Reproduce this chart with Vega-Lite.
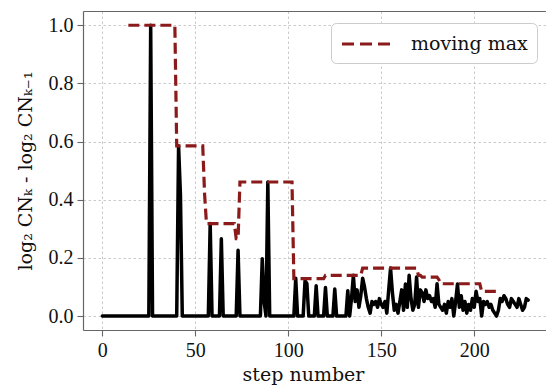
{
  "$schema": "https://vega.github.io/schema/vega-lite/v6.json",
  "width": 463,
  "height": 319,
  "autosize": {"type": "none"},
  "padding": {"left": 83, "top": 11, "right": 0, "bottom": 55},
  "config": {
    "view": {"stroke": null},
    "font": "Liberation Serif",
    "axis": {"labelFont": "Liberation Serif", "titleFont": "DejaVu Serif", "labelFontSize": 20, "titleFontSize": 19, "titleFontWeight": "normal", "labelColor": "#111", "titleColor": "#111", "domainColor": "#666", "domainWidth": 1.2, "tickColor": "#666", "tickWidth": 1.1, "tickSize": 6, "gridColor": "#bdbdbd", "gridDash": [2.5, 2.5], "gridWidth": 0.8}
  },
  "datasets": {
    "cn": [
      {"s":0,"v":0},{"s":1,"v":0},{"s":2,"v":0},{"s":3,"v":0},{"s":4,"v":0},{"s":5,"v":0},{"s":6,"v":0},{"s":7,"v":0},{"s":8,"v":0},{"s":9,"v":0},
      {"s":10,"v":0},{"s":11,"v":0},{"s":12,"v":0},{"s":13,"v":0},{"s":14,"v":0},{"s":15,"v":0},{"s":16,"v":0},{"s":17,"v":0},{"s":18,"v":0},{"s":19,"v":0},
      {"s":20,"v":0},{"s":21,"v":0},{"s":22,"v":0},{"s":23,"v":0},{"s":24,"v":0},{"s":25,"v":0},{"s":26,"v":1.0},{"s":27,"v":0},{"s":28,"v":0},{"s":29,"v":0},
      {"s":30,"v":0},{"s":31,"v":0},{"s":32,"v":0},{"s":33,"v":0},{"s":34,"v":0},{"s":35,"v":0},{"s":36,"v":0},{"s":37,"v":0},{"s":38,"v":0},{"s":39,"v":0},
      {"s":40,"v":0},{"s":41,"v":0.585},{"s":42,"v":0.418},{"s":43,"v":0},{"s":44,"v":0},{"s":45,"v":0},{"s":46,"v":0},{"s":47,"v":0},{"s":48,"v":0},{"s":49,"v":0},
      {"s":50,"v":0},{"s":51,"v":0},{"s":52,"v":0},{"s":53,"v":0},{"s":54,"v":0},{"s":55,"v":0},{"s":56,"v":0},{"s":57,"v":0},{"s":58,"v":0.318},{"s":59,"v":0},
      {"s":60,"v":0},{"s":61,"v":0},{"s":62,"v":0},{"s":63,"v":0},{"s":64,"v":0.266},{"s":65,"v":0},{"s":66,"v":0},{"s":67,"v":0},{"s":68,"v":0},{"s":69,"v":0},
      {"s":70,"v":0},{"s":71,"v":0},{"s":72,"v":0},{"s":73,"v":0.226},{"s":74,"v":0},{"s":75,"v":0},{"s":76,"v":0},{"s":77,"v":0},{"s":78,"v":0},{"s":79,"v":0},
      {"s":80,"v":0},{"s":81,"v":0},{"s":82,"v":0},{"s":83,"v":0},{"s":84,"v":0},{"s":85,"v":0},{"s":86,"v":0.197},{"s":87,"v":0.05},{"s":88,"v":0},{"s":89,"v":0.461},
      {"s":90,"v":0},{"s":91,"v":0},{"s":92,"v":0},{"s":93,"v":0},{"s":94,"v":0},{"s":95,"v":0},{"s":96,"v":0},{"s":97,"v":0},{"s":98,"v":0},{"s":99,"v":0},
      {"s":100,"v":0},{"s":101,"v":0},{"s":102,"v":0},{"s":103,"v":0},{"s":104,"v":0.13},{"s":105,"v":0},{"s":106,"v":0},{"s":107,"v":0},{"s":108,"v":0},{"s":109,"v":0.121},
      {"s":110,"v":0.112},{"s":111,"v":0},{"s":112,"v":0},{"s":113,"v":0},{"s":114,"v":0},{"s":115,"v":0.104},{"s":116,"v":0},{"s":117,"v":0},{"s":118,"v":0},{"s":119,"v":0},
      {"s":120,"v":0.098},{"s":121,"v":0},{"s":122,"v":0},{"s":123,"v":0},{"s":124,"v":0},{"s":125,"v":0.093},{"s":126,"v":0},{"s":127,"v":0},{"s":128,"v":0},{"s":129,"v":0},
      {"s":130,"v":0},{"s":131,"v":0},{"s":132,"v":0.087},{"s":133,"v":0},{"s":134,"v":0.06},{"s":135,"v":0.14},{"s":136,"v":0.05},{"s":137,"v":0.09},{"s":138,"v":0.03},{"s":139,"v":0.07},
      {"s":140,"v":0.13},{"s":141,"v":0.10},{"s":142,"v":0.06},{"s":143,"v":0.03},{"s":144,"v":0.01},{"s":145,"v":0.05},{"s":146,"v":0.04},{"s":147,"v":0.05},{"s":148,"v":0.03},{"s":149,"v":0.06},
      {"s":150,"v":0.04},{"s":151,"v":0.03},{"s":152,"v":0.05},{"s":153,"v":0.01},{"s":154,"v":0.09},{"s":155,"v":0.165},{"s":156,"v":0.08},{"s":157,"v":0.02},{"s":158,"v":0.04},{"s":159,"v":0.01},
      {"s":160,"v":0.05},{"s":161,"v":0.09},{"s":162,"v":0.02},{"s":163,"v":0.11},{"s":164,"v":0.03},{"s":165,"v":0.14},{"s":166,"v":0.06},{"s":167,"v":0.02},{"s":168,"v":0.04},{"s":169,"v":0.134},
      {"s":170,"v":0.03},{"s":171,"v":0.09},{"s":172,"v":0.08},{"s":173,"v":0.05},{"s":174,"v":0.09},{"s":175,"v":0.06},{"s":176,"v":0.07},{"s":177,"v":0.05},{"s":178,"v":0.06},{"s":179,"v":0.03},
      {"s":180,"v":0.111},{"s":181,"v":0.04},{"s":182,"v":0.03},{"s":183,"v":0.02},{"s":184,"v":0.04},{"s":185,"v":0.01},{"s":186,"v":0.05},{"s":187,"v":0.03},{"s":188,"v":0.06},{"s":189,"v":0},
      {"s":190,"v":0.05},{"s":191,"v":0.11},{"s":192,"v":0.03},{"s":193,"v":0.07},{"s":194,"v":0.02},{"s":195,"v":0.05},{"s":196,"v":0.01},{"s":197,"v":0.04},{"s":198,"v":0.02},{"s":199,"v":0.06},
      {"s":200,"v":0.03},{"s":201,"v":0.085},{"s":202,"v":0.05},{"s":203,"v":0.06},{"s":204,"v":0},{"s":205,"v":0.05},{"s":206,"v":0.04},{"s":207,"v":0.05},{"s":208,"v":0.03},{"s":209,"v":0.04},
      {"s":210,"v":0.02},{"s":211,"v":0.01},{"s":212,"v":0},{"s":213,"v":0.02},{"s":214,"v":0.06},{"s":215,"v":0.05},{"s":216,"v":0.07},{"s":217,"v":0.06},{"s":218,"v":0.04},{"s":219,"v":0.03},
      {"s":220,"v":0.06},{"s":221,"v":0.05},{"s":222,"v":0.04},{"s":223,"v":0.03},{"s":224,"v":0.06},{"s":225,"v":0.04},{"s":226,"v":0.02},{"s":227,"v":0.03},{"s":228,"v":0.06},{"s":229,"v":0.055}
    ],
    "mm": [
      {"s":14,"m":1.0},{"s":15,"m":1.0},{"s":16,"m":1.0},{"s":17,"m":1.0},{"s":18,"m":1.0},{"s":19,"m":1.0},{"s":20,"m":1.0},{"s":21,"m":1.0},{"s":22,"m":1.0},{"s":23,"m":1.0},
      {"s":24,"m":1.0},{"s":25,"m":1.0},{"s":26,"m":1.0},{"s":27,"m":1.0},{"s":28,"m":1.0},{"s":29,"m":1.0},{"s":30,"m":1.0},{"s":31,"m":1.0},{"s":32,"m":1.0},{"s":33,"m":1.0},
      {"s":34,"m":1.0},{"s":35,"m":1.0},{"s":36,"m":1.0},{"s":37,"m":1.0},{"s":38,"m":1.0},{"s":39,"m":1.0},{"s":40,"m":0.585},{"s":41,"m":0.585},{"s":42,"m":0.585},{"s":43,"m":0.585},
      {"s":44,"m":0.585},{"s":45,"m":0.585},{"s":46,"m":0.585},{"s":47,"m":0.585},{"s":48,"m":0.585},{"s":49,"m":0.585},{"s":50,"m":0.585},{"s":51,"m":0.585},{"s":52,"m":0.585},{"s":53,"m":0.585},
      {"s":54,"m":0.585},{"s":55,"m":0.418},{"s":56,"m":0.318},{"s":57,"m":0.318},{"s":58,"m":0.318},{"s":59,"m":0.318},{"s":60,"m":0.318},{"s":61,"m":0.318},{"s":62,"m":0.318},{"s":63,"m":0.318},
      {"s":64,"m":0.318},{"s":65,"m":0.318},{"s":66,"m":0.318},{"s":67,"m":0.318},{"s":68,"m":0.318},{"s":69,"m":0.318},{"s":70,"m":0.318},{"s":71,"m":0.318},{"s":72,"m":0.266},{"s":73,"m":0.266},
      {"s":74,"m":0.461},{"s":75,"m":0.461},{"s":76,"m":0.461},{"s":77,"m":0.461},{"s":78,"m":0.461},{"s":79,"m":0.461},{"s":80,"m":0.461},{"s":81,"m":0.461},{"s":82,"m":0.461},{"s":83,"m":0.461},
      {"s":84,"m":0.461},{"s":85,"m":0.461},{"s":86,"m":0.461},{"s":87,"m":0.461},{"s":88,"m":0.461},{"s":89,"m":0.461},{"s":90,"m":0.461},{"s":91,"m":0.461},{"s":92,"m":0.461},{"s":93,"m":0.461},
      {"s":94,"m":0.461},{"s":95,"m":0.461},{"s":96,"m":0.461},{"s":97,"m":0.461},{"s":98,"m":0.461},{"s":99,"m":0.461},{"s":100,"m":0.461},{"s":101,"m":0.461},{"s":102,"m":0.461},{"s":103,"m":0.129},
      {"s":104,"m":0.129},{"s":105,"m":0.129},{"s":106,"m":0.129},{"s":107,"m":0.129},{"s":108,"m":0.129},{"s":109,"m":0.129},{"s":110,"m":0.129},{"s":111,"m":0.129},{"s":112,"m":0.129},{"s":113,"m":0.129},
      {"s":114,"m":0.129},{"s":115,"m":0.129},{"s":116,"m":0.129},{"s":117,"m":0.129},{"s":118,"m":0.129},{"s":119,"m":0.129},{"s":120,"m":0.14},{"s":121,"m":0.14},{"s":122,"m":0.14},{"s":123,"m":0.14},
      {"s":124,"m":0.14},{"s":125,"m":0.14},{"s":126,"m":0.14},{"s":127,"m":0.14},{"s":128,"m":0.14},{"s":129,"m":0.14},{"s":130,"m":0.14},{"s":131,"m":0.14},{"s":132,"m":0.14},{"s":133,"m":0.14},
      {"s":134,"m":0.14},{"s":135,"m":0.14},{"s":136,"m":0.14},{"s":137,"m":0.14},{"s":138,"m":0.14},{"s":139,"m":0.14},{"s":140,"m":0.165},{"s":141,"m":0.165},{"s":142,"m":0.165},{"s":143,"m":0.165},
      {"s":144,"m":0.165},{"s":145,"m":0.165},{"s":146,"m":0.165},{"s":147,"m":0.165},{"s":148,"m":0.165},{"s":149,"m":0.165},{"s":150,"m":0.165},{"s":151,"m":0.165},{"s":152,"m":0.165},{"s":153,"m":0.165},
      {"s":154,"m":0.165},{"s":155,"m":0.165},{"s":156,"m":0.165},{"s":157,"m":0.165},{"s":158,"m":0.165},{"s":159,"m":0.165},{"s":160,"m":0.165},{"s":161,"m":0.165},{"s":162,"m":0.165},{"s":163,"m":0.165},
      {"s":164,"m":0.165},{"s":165,"m":0.165},{"s":166,"m":0.165},{"s":167,"m":0.165},{"s":168,"m":0.165},{"s":169,"m":0.165},{"s":170,"m":0.14},{"s":171,"m":0.14},{"s":172,"m":0.134},{"s":173,"m":0.134},
      {"s":174,"m":0.134},{"s":175,"m":0.134},{"s":176,"m":0.134},{"s":177,"m":0.134},{"s":178,"m":0.134},{"s":179,"m":0.134},{"s":180,"m":0.134},{"s":181,"m":0.125},{"s":182,"m":0.111},{"s":183,"m":0.111},
      {"s":184,"m":0.111},{"s":185,"m":0.111},{"s":186,"m":0.111},{"s":187,"m":0.111},{"s":188,"m":0.111},{"s":189,"m":0.111},{"s":190,"m":0.111},{"s":191,"m":0.111},{"s":192,"m":0.111},{"s":193,"m":0.111},
      {"s":194,"m":0.111},{"s":195,"m":0.111},{"s":196,"m":0.111},{"s":197,"m":0.111},{"s":198,"m":0.111},{"s":199,"m":0.111},{"s":200,"m":0.111},{"s":201,"m":0.111},{"s":202,"m":0.111},{"s":203,"m":0.111},
      {"s":204,"m":0.085},{"s":205,"m":0.085},{"s":206,"m":0.085},{"s":207,"m":0.085},{"s":208,"m":0.085},{"s":209,"m":0.085},{"s":210,"m":0.085},{"s":211,"m":0.085},{"s":212,"m":0.085},{"s":213,"m":0.085}
    ]
  },
  "layer": [
    {
      "data": {"name": "cn"},
      "mark": {"type": "line", "color": "black", "strokeWidth": 3.5, "strokeJoin": "round", "strokeCap": "round"},
      "encoding": {
        "x": {"field": "s", "type": "quantitative", "scale": {"domain": [-10.4, 238.6], "nice": false, "zero": false},
          "axis": {"orient": "bottom", "values": [0, 50, 100, 150, 200], "title": "step number", "labelPadding": 4, "titlePadding": 5, "titleX": 220}},
        "y": {"field": "v", "type": "quantitative", "scale": {"domain": [-0.048, 1.049], "nice": false, "zero": false},
          "axis": {"values": [0, 0.2, 0.4, 0.6, 0.8, 1.0], "format": ".1f", "title": "log₂ CNₖ - log₂ CNₖ₋₁", "labelPadding": 4, "titleX": -48}}
      }
    },
    {
      "data": {"name": "mm"},
      "mark": {"type": "line", "strokeWidth": 3.2, "strokeDash": [11, 5], "strokeCap": "butt"},
      "encoding": {
        "x": {"field": "s", "type": "quantitative",
          "axis": {"orient": "top", "labels": false, "ticks": false, "grid": false, "title": null, "domain": true}},
        "y": {"field": "m", "type": "quantitative"},
        "color": {"datum": "moving max", "type": "nominal", "scale": {"range": ["#8b1a1a"]},
          "legend": {"orient": "none", "legendX": 248, "legendY": 12, "title": null, "fillColor": "white", "strokeColor": "#cccccc", "cornerRadius": 5, "padding": 9,
            "symbolType": "M-2.4,0H2.4", "symbolSize": 400, "symbolOffset": 14, "symbolStrokeWidth": 3.2, "symbolDash": [12, 6], "symbolFillColor": "transparent", "labelFont": "DejaVu Serif", "labelFontSize": 19, "labelOffset": 33, "labelColor": "#111"}}
      }
    }
  ],
  "resolve": {"axis": {"x": "independent"}}
}
